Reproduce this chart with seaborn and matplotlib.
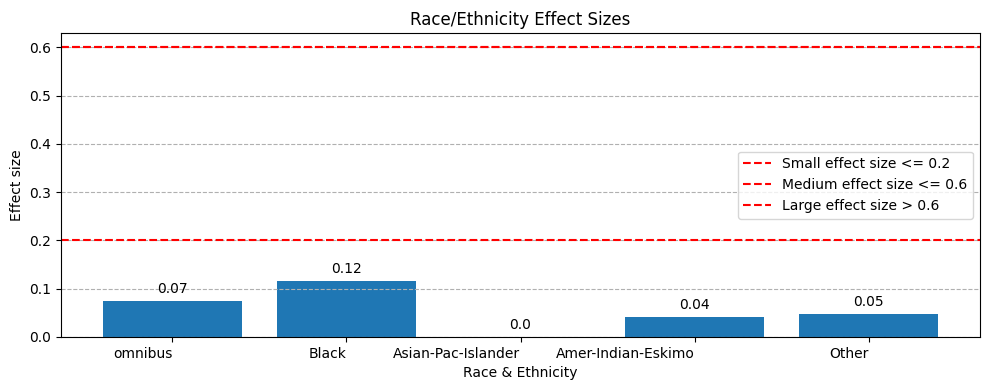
import matplotlib
matplotlib.use("Agg")
import matplotlib.pyplot as plt
import pandas as pd
import seaborn as sns

# dados
grupos = ["omnibus", "Black", "Asian-Pac-Islander", "Amer-Indian-Eskimo", "Other"]
efeitos = [0.074, 0.116, 0.0, 0.041, 0.047]

limiar_pequeno = 0.2
limiar_medio = 0.6

df = pd.DataFrame({"grupo": grupos, "efeito": efeitos})

fig, ax = plt.subplots(figsize=(9.89, 3.9), dpi=100)

sns.barplot(data=df, x="grupo", y="efeito", color="#1f77b4", saturation=1,
            width=0.8, ax=ax)

# linhas de referência
ax.axhline(limiar_pequeno, color="red", linestyle="--", label="Small effect size <= 0.2")
ax.axhline(limiar_medio, color="red", linestyle="--", label="Medium effect size <= 0.6")
ax.axhline(limiar_medio, color="red", linestyle="--", label="Large effect size > 0.6")

# rótulos em cima das barras
for i, v in enumerate(efeitos):
    ax.text(i, v + 0.01, str(round(v, 2)), ha="center", va="bottom")

ax.set_xticks(range(len(grupos)))
ax.set_xticklabels(grupos, ha="right")
ax.set_xlim(-0.64, len(grupos) - 1 + 0.64)
ax.set_ylim(0, 0.63)
ax.grid(axis="y", linestyle="--")
ax.legend(loc="center right")

ax.set_title("Race/Ethnicity Effect Sizes")
ax.set_xlabel("Race & Ethnicity")
ax.set_ylabel("Effect size")

# margens ajustadas na mão para bater com a imagem
fig.subplots_adjust(left=61 / 989, right=980 / 989, top=1 - 33 / 390, bottom=1 - 337 / 390)
plt.savefig("out.png", dpi=100)
